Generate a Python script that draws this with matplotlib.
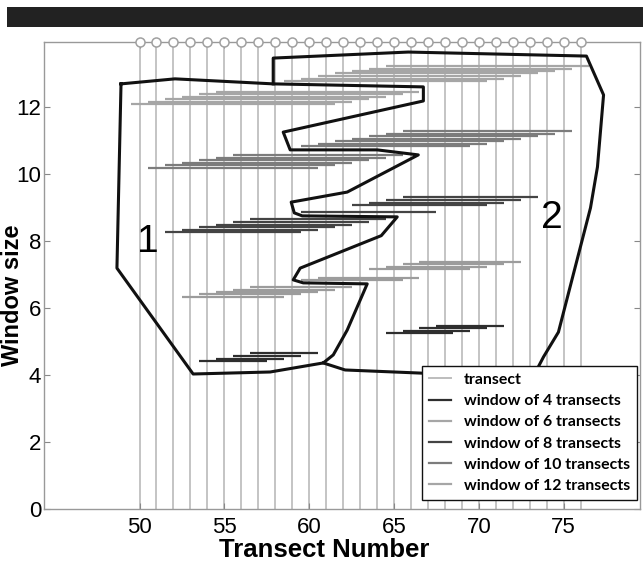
import numpy as np
import matplotlib
matplotlib.use('Agg')
import matplotlib.pyplot as plt
from matplotlib import font_manager
from matplotlib.lines import Line2D
from matplotlib.patches import Rectangle

# transects along the axis
transects = list(range(50, 77))
top_marker_y = 13.94

# windows: start transect and plotted height, per window size and region
w4_r1_start = [54, 55, 56, 57]
w4_r1_y = [4.42, 4.49, 4.57, 4.65]
w4_r2_start = [65, 66, 67, 68]
w4_r2_y = [5.24, 5.31, 5.39, 5.46]

w6_r1_start = [53, 54, 55, 56, 57]
w6_r1_y = [6.34, 6.41, 6.48, 6.55, 6.62]
w6_r2_start = [60, 61, 64, 65, 66, 67]
w6_r2_y = [6.84, 6.91, 7.15, 7.23, 7.31, 7.38]

w8_r1_start = [52, 53, 54, 55, 56, 57]
w8_r1_y = [8.26, 8.34, 8.42, 8.49, 8.57, 8.65]
w8_r2_start = [60, 63, 64, 65, 66]
w8_r2_y = [8.86, 9.07, 9.14, 9.22, 9.30]

w10_r1_start = [51, 52, 53, 54, 55, 56]
w10_r1_y = [10.18, 10.26, 10.33, 10.41, 10.48, 10.56]
w10_r2_start = [60, 61, 62, 63, 64, 65, 66]
w10_r2_y = [10.83, 10.90, 10.98, 11.05, 11.12, 11.20, 11.27]

w12_r1_start = [50, 51, 52, 53, 54, 55]
w12_r1_y = [12.09, 12.16, 12.24, 12.31, 12.38, 12.46]
w12_r2_start = [59, 60, 61, 62, 63, 64, 65]
w12_r2_y = [12.78, 12.85, 12.92, 13.00, 13.07, 13.14, 13.21]

# region outlines
region1_x = [48.91, 52.09, 57.88, 66.73, 66.73, 58.47, 58.88, 64.01, 66.43, 62.24,
             58.94, 59.12, 59.59, 65.19, 64.25, 59.47, 59.06, 59.65, 63.42, 62.24,
             61.42, 60.83, 57.70, 53.16, 48.67, 48.91]
region1_y = [12.69, 12.84, 12.69, 12.60, 12.18, 11.25, 10.72, 10.72, 10.57, 9.46,
             9.16, 8.84, 8.75, 8.72, 8.16, 7.19, 6.84, 6.75, 6.72, 5.34,
             4.60, 4.36, 4.09, 4.03, 7.19, 12.69]
region2_x = [60.83, 62.12, 66.43, 73.16, 73.81, 74.69, 76.58, 76.99, 77.35, 76.34,
             65.84, 57.88, 57.88]
region2_y = [4.36, 4.15, 4.06, 3.91, 4.54, 5.28, 8.99, 10.21, 12.36, 13.52,
             13.64, 13.46, 12.69]

xticks = [50, 55, 60, 65, 70, 75]
yticks = [0, 2, 4, 6, 8, 10, 12]

available = {f.name for f in font_manager.fontManager.ttflist}
tick_font = 'Liberation Sans Narrow' if 'Liberation Sans Narrow' in available else 'Liberation Sans'

fig = plt.figure(figsize=(6.43, 5.63), dpi=100)
fig.add_artist(Rectangle((0.011, 0.952), 0.989, 0.036, transform=fig.transFigure,
                         color='#222222', lw=0))
ax = fig.add_axes([0.0684, 0.0959, 0.927, 0.8295])

for t in transects:
    ax.plot([t, t], [0, top_marker_y], color='#c4c4c4', lw=1.4, zorder=1)
ax.plot(transects, [top_marker_y] * len(transects), 'o', ms=6.5, mfc='white',
        mec='#a0a0a0', mew=1.1, clip_on=False, zorder=3)

groups = [
    (4, w4_r1_start, w4_r1_y, w4_r2_start, w4_r2_y, '#2e2e2e'),
    (6, w6_r1_start, w6_r1_y, w6_r2_start, w6_r2_y, '#9c9c9c'),
    (8, w8_r1_start, w8_r1_y, w8_r2_start, w8_r2_y, '#444444'),
    (10, w10_r1_start, w10_r1_y, w10_r2_start, w10_r2_y, '#7c7c7c'),
    (12, w12_r1_start, w12_r1_y, w12_r2_start, w12_r2_y, '#a6a6a6'),
]
for n, s1, y1, s2, y2, col in groups:
    starts = np.array(s1 + s2) - 0.5
    ys = np.array(y1 + y2)
    ax.hlines(ys, starts, starts + n, colors=col, lw=1.6, zorder=2)

ax.plot(region1_x, region1_y, color='#111111', lw=2.2, zorder=4)
ax.plot(region2_x, region2_y, color='#111111', lw=2.2, zorder=4)

ax.text(50.5, 7.97, '1', fontsize=28, ha='center', va='center', family='Liberation Sans')
ax.text(74.3, 8.69, '2', fontsize=28, ha='center', va='center', family='Liberation Sans')

ax.set_xlim(44.37, 79.5)
ax.set_ylim(0, 13.94)
ax.set_xticks(xticks)
ax.set_yticks(yticks)
ax.tick_params(direction='in', length=4, width=0.8, color='#888888',
               top=True, right=True, labelsize=16)
ax.tick_params(axis='x', pad=6)
ax.tick_params(axis='y', pad=2)
for lab in ax.get_xticklabels() + ax.get_yticklabels():
    lab.set_family(tick_font)
for sp in ax.spines.values():
    sp.set_color('#999999')
    sp.set_linewidth(1.0)

ax.set_xlabel('Transect Number', fontsize=18.5, fontweight='bold', family='Liberation Sans')
ax.xaxis.set_label_coords(0.47, -0.063)
ax.set_ylabel('Window size', fontsize=17, fontweight='bold', family='Liberation Sans')
ax.yaxis.set_label_coords(-0.033, 0.458)

handles = [
    Line2D([], [], color='#bdbdbd', lw=1.4),
    Line2D([], [], color='#2e2e2e', lw=1.6),
    Line2D([], [], color='#a6a6a6', lw=1.6),
    Line2D([], [], color='#444444', lw=1.6),
    Line2D([], [], color='#7c7c7c', lw=1.6),
    Line2D([], [], color='#a6a6a6', lw=1.6),
]
labels = ['transect', 'window of 4 transects', 'window of 6 transects',
          'window of 8 transects', 'window of 10 transects', 'window of 12 transects']
leg = ax.legend(handles, labels, loc='lower right', bbox_to_anchor=(0.995, 0.019),
                borderaxespad=0, fancybox=False, framealpha=1, edgecolor='#111111',
                prop={'family': 'Lato', 'weight': 'bold', 'size': 11.4},
                handlelength=1.4, handletextpad=0.8, labelspacing=0.45, borderpad=0.45)
leg.get_frame().set_linewidth(1.0)
leg.set_zorder(5)

fig.savefig('out.png', dpi=100)
